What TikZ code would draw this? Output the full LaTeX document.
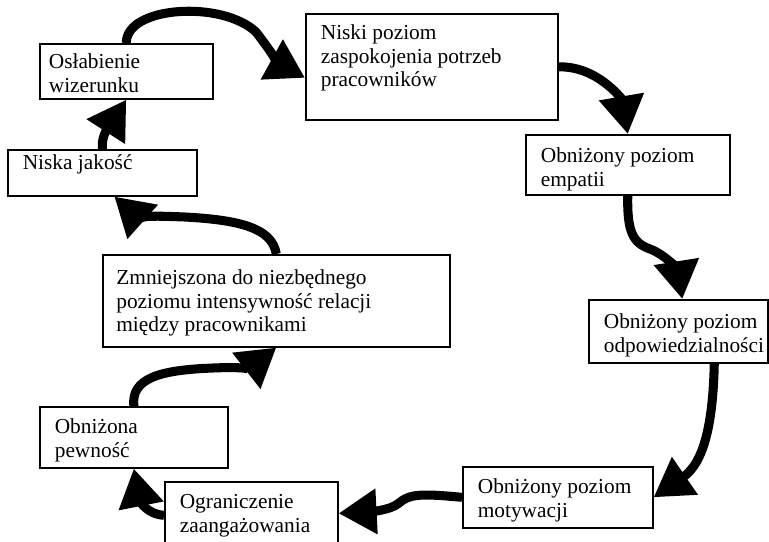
\documentclass[tikz,border=0pt]{standalone}
\usepackage{fontspec}
\setmainfont{Liberation Serif}
\usetikzlibrary{positioning,calc,arrows.meta}
% box text: [left pad] width, height, top pad, lines
\newcommand{\cell}[5][8.3pt]{\parbox[c][#3][t]{#2}{\vspace*{#4}\raggedright\leftskip=#1\strut #5}}
\tikzset{
  cell/.style = {draw, line width=0.9pt, rectangle, fill=white, anchor=north west,
                 inner sep=0pt, font=\fontsize{11.8}{13}\selectfont},
  post/.style = {-{Triangle[length=21pt,width=24pt]}, line width=5pt}
}

\begin{document}
\begin{tikzpicture}[x=0.5527pt, y=-0.5527pt]
  \useasboundingbox (0,0) rectangle (769,541);
  % boxes
  \node[cell] (osl) at (39,43) {\cell[5pt]{95.6pt}{30.4pt}{4.7pt}{Osłabienie\\wizerunku}};
  \node[cell] (niski) at (305,13) {\cell{139.3pt}{58.6pt}{5.3pt}{Niski poziom\\zaspokojenia potrzeb\\pracowników}};
  \node[cell] (emp) at (525,134) {\cell{112.7pt}{33.2pt}{6.4pt}{Obniżony poziom\\empatii}};
  \node[cell] (odp) at (588,299) {\cell{98.9pt}{34.8pt}{6.9pt}{Obniżony poziom\\odpowiedzialności}};
  \node[cell] (mot) at (462,466) {\cell{105pt}{33.7pt}{5.9pt}{Obniżony poziom\\motywacji}};
  \node[cell] (ogr) at (164,481) {\cell{95.6pt}{43.7pt}{5.9pt}{Ograniczenie\\zaangażowania}};
  \node[cell] (pew) at (39,406) {\cell{103.9pt}{33.7pt}{5.9pt}{Obniżona\\pewność}};
  \node[cell] (zmn) at (102,254) {\cell[7.5pt]{191.8pt}{50.8pt}{7.5pt}{Zmniejszona do niezbędnego\\poziomu intensywność relacji\\między pracownikami}};
  \node[cell] (niska) at (7,149) {\cell{104.5pt}{25.4pt}{2pt}{Niska jakość}};

  % cycle arrows
  \draw[post] (osl.north) .. controls (126,6) and (222,0) .. (256,32)
              .. controls (266,45) and (280,64) .. ($(niski.west)+(0,11)$);
  \draw[post] (niski.east) .. controls (598,66) and (622,100) .. (emp.north);
  \draw[post] (emp.south) .. controls (627,232) and (633,243) .. (650,249)
              .. controls (668,256) and (678,272) .. ($(odp.north)+(4,0)$);
  \draw[post] ($(odp.south)+(36,0)$) .. controls (713,420) and (705,462) .. (mot.east);
  \draw[post] (mot.west) .. controls (425,494) and (410,493) .. (399,503)
              .. controls (390,511) and (365,512) .. ($(ogr.east)+(0,-8)$);
  \draw[post] ($(ogr.west)+(0,-6)$) .. controls (146,514) and (140,500) .. (pew.south);
  \draw[post] (pew.north) .. controls (131,378) and (160,370) .. (213,368)
              .. controls (235,367) and (250,368) .. (zmn.south);
  \draw[post] (zmn.north) .. controls (272,228) and (240,220) .. (185,217)
              .. controls (160,216) and (135,215) .. ($(niska.south)+(12,0)$);
  \draw[post] (niska.north) .. controls (101,135) and (110,125) .. (osl.south);
\end{tikzpicture}
\end{document}
